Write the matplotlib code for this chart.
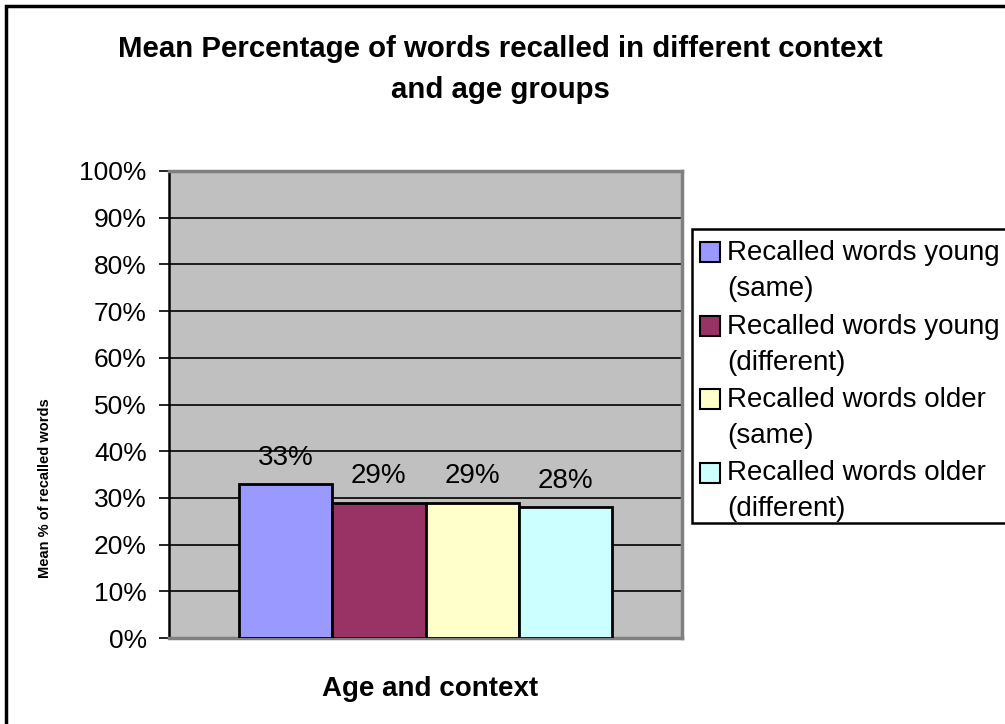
import matplotlib.pyplot as plt
from matplotlib.patches import Rectangle

# data
series = ['Recalled words young\n(same)', 'Recalled words young\n(different)',
          'Recalled words older\n(same)', 'Recalled words older\n(different)']
values = [33, 29, 29, 28]
colors = ['#9999FF', '#993366', '#FFFFCC', '#CCFFFF']
yticks = list(range(0, 101, 10))

plt.rcParams['font.family'] = ['Liberation Sans', 'DejaVu Sans']

W, H = 1005, 724
fig = plt.figure(figsize=(W / 100, H / 100), dpi=100)

def fx(px):
    return px / W

def fy(py):
    return 1 - py / H

# outer chart border (cut off at right/bottom)
fig.patches.append(Rectangle((fx(6), fy(730)), fx(1010), 1.0, transform=fig.transFigure,
                             fill=False, edgecolor='black', linewidth=2.5))

ax = fig.add_axes([fx(169), fy(638), fx(682 - 169), (638 - 171) / H])
ax.set_facecolor('#C0C0C0')

x = list(range(len(values)))
ax.bar(x, values, width=1.0, color=colors, edgecolor='black', linewidth=2, zorder=3)
for xi, v in zip(x, values):
    ax.text(xi, v + 4.1, f'{v}%', ha='center', va='baseline', fontsize=20, zorder=4)

ax.set_xlim(-1.245, 4.245)
ax.set_ylim(0, 100)
ax.set_yticks(yticks)
ax.set_yticklabels([f'{t}%' for t in yticks], fontsize=19)
ax.set_xticks([])
ax.yaxis.grid(True, color='black', linewidth=1.2, zorder=1)
ax.set_axisbelow(True)
ax.tick_params(axis='y', length=7, width=1.2, color='black', pad=9)

for side in ['top', 'right', 'bottom']:
    ax.spines[side].set_color('#808080')
    ax.spines[side].set_linewidth(2.5)
ax.spines['left'].set_color('black')
ax.spines['left'].set_linewidth(1.8)

fig.text(fx(500), fy(57), 'Mean Percentage of words recalled in different context',
         ha='center', va='baseline', fontsize=21.2, fontweight='bold')
fig.text(fx(500), fy(98), 'and age groups',
         ha='center', va='baseline', fontsize=21.2, fontweight='bold')

fig.text(fx(430), fy(696), 'Age and context', ha='center', va='baseline',
         fontsize=20, fontweight='bold')
fig.text(fx(45), fy(488), 'Mean % of recalled words', ha='center', va='center',
         rotation=90, fontsize=10.5, fontweight='bold')

# legend box, drawn by hand so the swatch sits beside the first text line
fig.patches.append(Rectangle((fx(692), fy(523)), fx(1010 - 692), (523 - 229) / H,
                             transform=fig.transFigure, facecolor='white',
                             edgecolor='black', linewidth=1.8))
entry_top = 252
for i, (name, c) in enumerate(zip(series, colors)):
    yc = entry_top + i * 73.5
    fig.patches.append(Rectangle((fx(700), fy(yc + 10)), fx(20), 20 / H,
                                 transform=fig.transFigure, facecolor=c,
                                 edgecolor='black', linewidth=1.5))
    first, second = name.split('\n')
    fig.text(fx(727), fy(yc + 8), first, ha='left', va='baseline', fontsize=20)
    fig.text(fx(727), fy(yc + 44), second, ha='left', va='baseline', fontsize=20)

fig.savefig('out.png', dpi=100)
